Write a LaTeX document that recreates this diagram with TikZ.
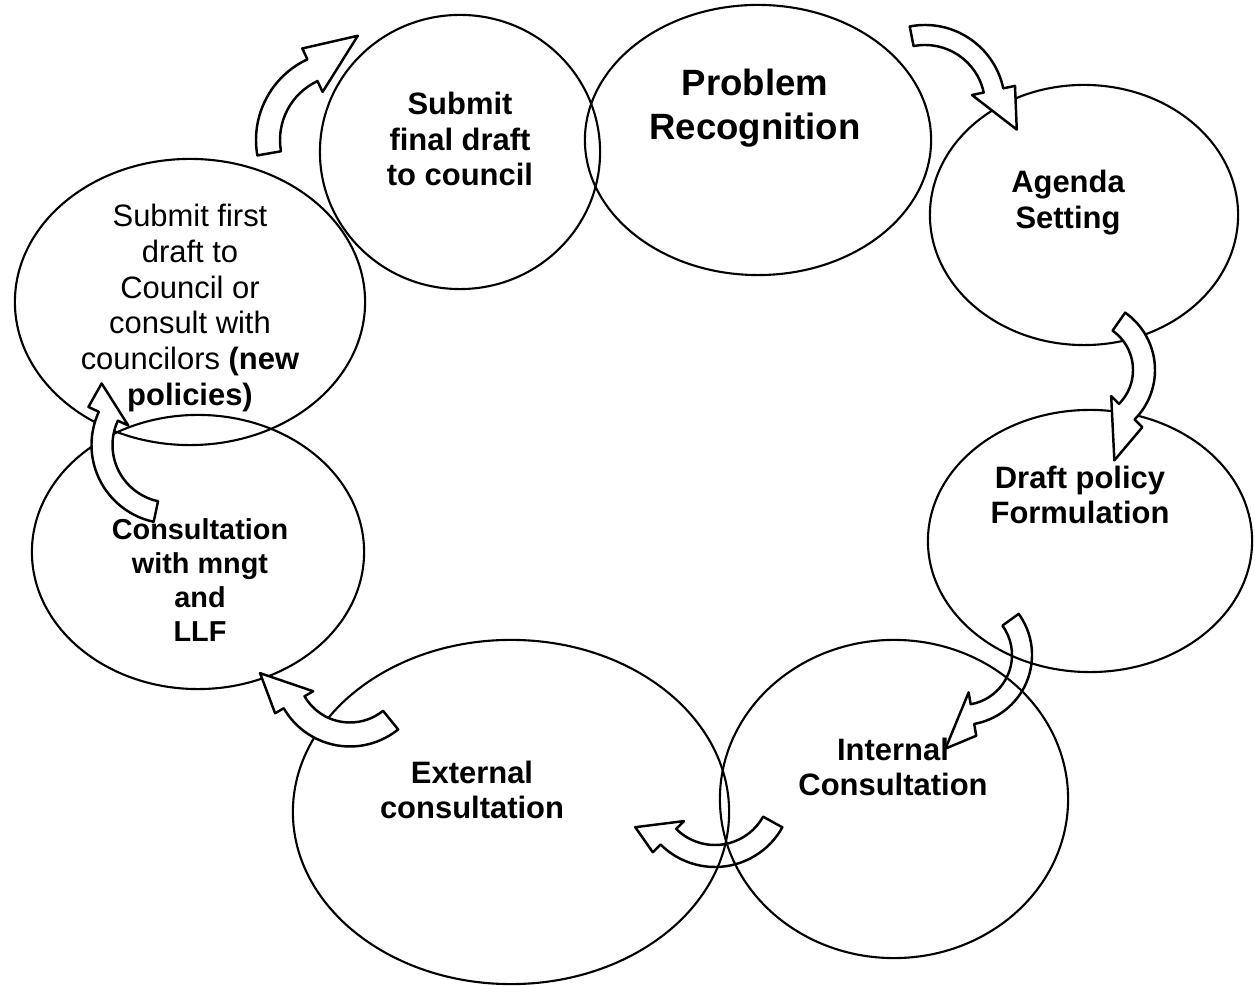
\documentclass[tikz,border=0pt]{standalone}
\usepackage{fontspec}
\setmainfont{Liberation Sans}
\usetikzlibrary{shapes.geometric,calc}

% curved block arrow: centre, radius, start, end, tip angle, tip radius, half width, half head
\newcommand\bentarrow[8]{%
  \pgfmathsetmacro\arcout{#2+#7}\pgfmathsetmacro\arcin{#2-#7}%
  \pgfmathsetmacro\headout{#2+#8}\pgfmathsetmacro\headin{#2-#8}%
  \draw[bent] ($(#1)+(#3:\arcout)$) arc[start angle=#3, end angle=#4, radius=\arcout]
    -- ($(#1)+(#4:\headout)$) -- ($(#1)+(#5:#6)$) -- ($(#1)+(#4:\headin)$)
    -- ($(#1)+(#4:\arcin)$) arc[start angle=#4, end angle=#3, radius=\arcin] -- cycle;}

\begin{document}
\begin{tikzpicture}[x=0.01cm, y=-0.01cm, line width=0.6pt,
  stage/.style={draw, ellipse, inner sep=0pt},
  stagetext/.style={align=center, font=\fontsize{8.8}{10.2}\selectfont\bfseries},
  bent/.style={draw, fill=white, line width=0.7pt, line join=round}]
\useasboundingbox (0,0) rectangle (1255,986);

%Stages
\node[stage, minimum width=3.46cm, minimum height=2.70cm] (pr) at (758,140) {};
\node[stage, minimum width=2.80cm, minimum height=2.74cm] (sc) at (460,152) {};
\node[stage, minimum width=3.08cm, minimum height=2.60cm] (as) at (1084,215) {};
\node[stage, minimum width=3.24cm, minimum height=2.62cm] (dp) at (1090,541) {};
\node[stage, minimum width=3.48cm, minimum height=3.18cm] (ic) at (894,799) {};
\node[stage, minimum width=4.36cm, minimum height=3.44cm] (ec) at (511,812) {};
\node[stage, minimum width=3.32cm, minimum height=2.74cm] (cm) at (198,552) {};
\node[stage, minimum width=3.50cm, minimum height=2.86cm] (sf) at (190,302) {};

%Stage texts
\node[stagetext, font=\fontsize{10.4}{12.5}\selectfont\bfseries] (prt) at ($(pr)+(-3,-32)$) {Problem\\Recognition};
\node[stagetext] (sct) at ($(sc)+(0,-13)$) {Submit\\final draft\\to council};
\node[stagetext] (ast) at ($(as)+(-16,-12)$) {Agenda\\Setting};
\node[stagetext] (dpt) at ($(dp)+(-10,-46)$) {Draft policy\\Formulation};
\node[stagetext] (ict) at ($(ic)+(-1,-32)$) {Internal\\Consultation};
\node[stagetext, font=\fontsize{8.8}{9.9}\selectfont\bfseries] (ect) at ($(ec)+(-39,-22)$) {External\\consultation};
\node[stagetext, font=\fontsize{8.2}{9.6}\selectfont\bfseries] (cmt) at ($(cm)+(2,28)$) {Consultation\\with mngt\\and\\LLF};
\node[stagetext, font=\fontsize{8.8}{10.2}\selectfont] (sft) at ($(sf)+(0,6)$) {Submit first\\draft to\\Council or\\consult with\\councilors \textbf{(new}\\\textbf{policies)}};

%Curved arrows
\bentarrow{345,140}{77}{170}{245}{277}{105}{12}{24}
\bentarrow{925,105}{70}{259}{348}{15}{95}{10}{22}
\bentarrow{1085,370}{59}{305}{405}{432}{95}{11}{22}
\bentarrow{350,670}{64.5}{51}{150}{178}{90}{12}{22}
\bentarrow{170,445}{68}{102}{205}{222}{92}{10.5}{22}
%these two let the outlines show through
\begin{scope}[bent/.append style={fill=none}]
\bentarrow{962,655}{60}{324}{440}{460}{95}{10}{22}
\bentarrow{715,790}{66}{29}{135}{155}{88}{11}{22}
\end{scope}

\end{tikzpicture}
\end{document}
